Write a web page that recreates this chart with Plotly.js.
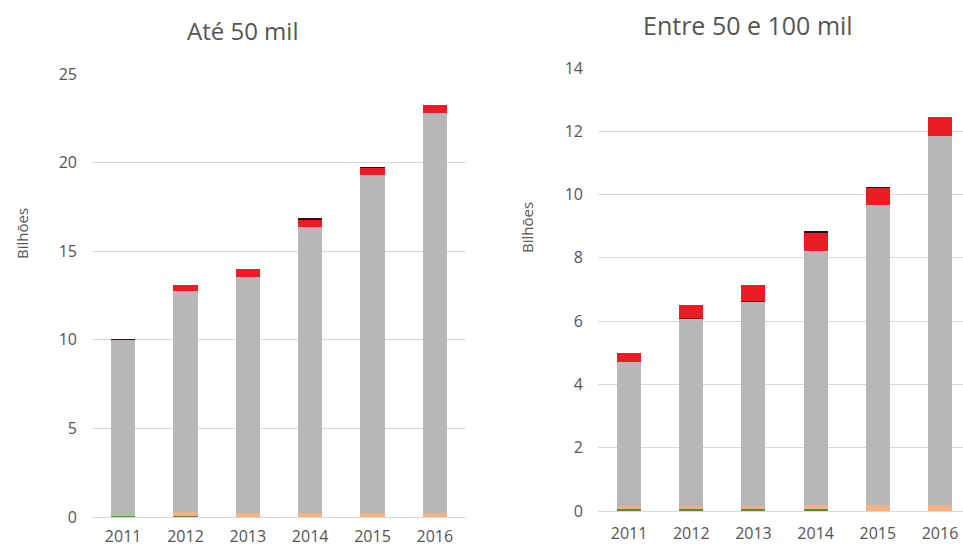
<!DOCTYPE html>
<html><head><meta charset="utf-8">
<script src="https://cdn.plot.ly/plotly-3.0.1.min.js"></script>
<style>html,body{margin:0;padding:0;background:#fff}#chart{width:963px;height:548px}</style>
</head><body><div id="chart"></div>
<script>
var years = ['2011','2012','2013','2014','2015','2016'];
// Left panel: Até 50 mil (billions)
var leftGreen  = [0.07, 0.08, 0, 0, 0, 0];
var leftOrange = [0.05, 0.20, 0.20, 0.20, 0.20, 0.20];
var leftGray   = [9.88, 12.47, 13.36, 16.18, 19.10, 22.62];
var leftDarkRed= [0, 0.03, 0, 0, 0, 0];
var leftRed    = [0, 0.30, 0.44, 0.38, 0.37, 0.43];
var leftBlack  = [0.06, 0, 0, 0.10, 0.10, 0];
// Right panel: Entre 50 e 100 mil (billions)
var rightGreen  = [0.07, 0.07, 0.07, 0.07, 0, 0];
var rightOrange = [0.10, 0.10, 0.10, 0.13, 0.20, 0.20];
var rightGray   = [4.55, 5.90, 6.44, 8.02, 9.48, 11.64];
var rightDarkRed= [0, 0.03, 0.03, 0, 0, 0];
var rightRed    = [0.27, 0.40, 0.49, 0.58, 0.52, 0.62];
var rightBlack  = [0, 0, 0, 0.04, 0.04, 0];

var leftTicks = [0,5,10,15,20,25];
var rightTicks = [0,2,4,6,8,10,12,14];

var colors = {green:'#5b8a32', orange:'#f6b183', gray:'#b7b7b7', darkred:'#7a1a1a', red:'#ec1c24', black:'#2a1214'};

function tr(y, col, xa, ya){
  return {type:'bar', x:years, y:y, xaxis:xa, yaxis:ya, marker:{color:col, line:{width:0}}, hoverinfo:'y', showlegend:false};
}
var data = [
  tr(leftGreen, colors.green,'x','y'), tr(leftOrange, colors.orange,'x','y'), tr(leftGray, colors.gray,'x','y'),
  tr(leftDarkRed, colors.darkred,'x','y'), tr(leftRed, colors.red,'x','y'), tr(leftBlack, colors.black,'x','y'),
  tr(rightGreen, colors.green,'x2','y2'), tr(rightOrange, colors.orange,'x2','y2'), tr(rightGray, colors.gray,'x2','y2'),
  tr(rightDarkRed, colors.darkred,'x2','y2'), tr(rightRed, colors.red,'x2','y2'), tr(rightBlack, colors.black,'x2','y2')
];

var W=963, H=548;
var FF = 'Open Sans, Noto Sans, sans-serif';
var TXT = '#555555';
var tickFont = {family:FF, size:16, color:TXT};
var axX = {type:'category', showgrid:false, zeroline:false, showline:false, ticks:'', tickfont:tickFont, fixedrange:true};
var axY = {showgrid:true, gridcolor:'#d9d9d9', gridwidth:1, zeroline:true, zerolinecolor:'#d9d9d9', zerolinewidth:1, showline:false, ticks:'', tickfont:tickFont, ticklabelstandoff:14, fixedrange:true, tickmode:'array'};

var layout = {
  width:W, height:H, margin:{l:0,r:0,t:0,b:0}, paper_bgcolor:'#fff', plot_bgcolor:'rgba(0,0,0,0)',
  barmode:'stack', bargap:0.614, showlegend:false,
  font:{family:FF, color:TXT},
  xaxis: Object.assign({}, axX, {domain:[92/W, 466/W], range:[-0.5,5.5], anchor:'y', ticklabelstandoff:8}),
  yaxis: Object.assign({}, axY, {domain:[(H-517)/H, (H-74)/H], range:[0,25], tickvals:leftTicks, anchor:'x'}),
  xaxis2: Object.assign({}, axX, {domain:[598/W, 1], range:[-0.5,5.37], anchor:'y2', ticklabelstandoff:11}),
  yaxis2: Object.assign({}, axY, {domain:[(H-511)/H, (H-68)/H], range:[0,14], tickvals:rightTicks, anchor:'x2'}),
  annotations:[
    {text:'Até 50 mil', xref:'paper', yref:'paper', x:242/W, y:(H-31)/H, xanchor:'center', yanchor:'middle', showarrow:false, font:{family:FF, size:24, color:TXT}},
    {text:'Entre 50 e 100 mil', xref:'paper', yref:'paper', x:748/W, y:(H-25)/H, xanchor:'center', yanchor:'middle', showarrow:false, font:{family:FF, size:25, color:TXT}},
    {text:'Bilhões', xref:'paper', yref:'paper', x:22/W, y:(H-234)/H, xanchor:'center', yanchor:'middle', textangle:-90, showarrow:false, font:{family:FF, size:15, color:TXT}},
    {text:'Bilhões', xref:'paper', yref:'paper', x:527/W, y:(H-228)/H, xanchor:'center', yanchor:'middle', textangle:-90, showarrow:false, font:{family:FF, size:15, color:TXT}}
  ]
};
Plotly.newPlot('chart', data, layout, {staticPlot:true, displayModeBar:false});
</script></body></html>
